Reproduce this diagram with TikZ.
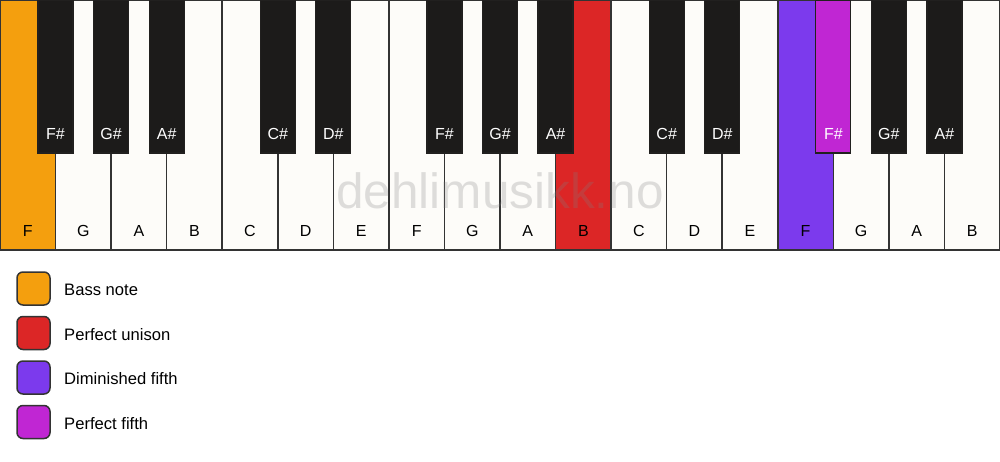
\documentclass[tikz,border=0pt]{standalone}
\usepackage{fontspec}
\setmainfont{Liberation Sans}
\definecolor{keywhite}{HTML}{FDFCF9}
\definecolor{keyblack}{HTML}{1C1B1A}
\definecolor{edgec}{HTML}{333333}
\definecolor{bassC}{HTML}{F49F0E}
\definecolor{unisonC}{HTML}{DC2626}
\definecolor{dimC}{HTML}{7C3AED}
\definecolor{fifthC}{HTML}{C026D3}
\tikzset{
  whitekey/.style={rectangle, draw=edgec, line width=1.5pt, anchor=north west,
    minimum width=55.556pt, minimum height=250pt, inner sep=0pt, outer sep=0pt},
  blackkey/.style={rectangle, draw=keyblack!80!edgec, line width=1.2pt, anchor=north,
    minimum width=35pt, minimum height=153pt, inner sep=0pt, outer sep=0pt},
  wlabel/.style={anchor=base, text=black, font=\fontsize{16}{19}\selectfont, inner sep=0pt},
  blabel/.style={anchor=base, text=white, font=\fontsize{16}{19}\selectfont, inner sep=0pt},
  legbox/.style={rectangle, rounded corners=6pt, draw=edgec, line width=1.5pt,
    minimum width=33pt, minimum height=33pt, inner sep=0pt},
  legtext/.style={anchor=base west, text=black, font=\fontsize{16.6}{20}\selectfont, inner sep=0pt},
  watermark/.style={anchor=base, text=gray, text opacity=0.25, font=\fontsize{49.5}{58}\selectfont, inner sep=0pt}
}
\begin{document}
\begin{tikzpicture}[x=1pt, y=-1pt]
\useasboundingbox[fill=white] (0,0) rectangle (1000,461);
% white keys
\foreach \n/\c [count=\i from 0] in {F/bassC,G/keywhite,A/keywhite,B/keywhite,C/keywhite,D/keywhite,E/keywhite,F/keywhite,G/keywhite,A/keywhite,B/unisonC,C/keywhite,D/keywhite,E/keywhite,F/dimC,G/keywhite,A/keywhite,B/keywhite}{
  \node[whitekey, fill=\c] (w\i) at (\i*55.556, 0) {};
}
% black keys
\foreach \b/\n/\c in {1/F\#/keyblack,2/G\#/keyblack,3/A\#/keyblack,5/C\#/keyblack,6/D\#/keyblack,8/F\#/keyblack,9/G\#/keyblack,10/A\#/keyblack,12/C\#/keyblack,13/D\#/keyblack,15/F\#/fifthC,16/G\#/keyblack,17/A\#/keyblack}{
  \node[blackkey, fill=\c] (b\b) at (\b*55.556, 0) {};
  \node[blabel] (bl\b) at (\b*55.556, 139) {\n};
}
% watermark
\node[watermark] (wm) at (500, 208) {dehlimusikk.no};
% white key labels
\foreach \n [count=\i from 0] in {F,G,A,B,C,D,E,F,G,A,B,C,D,E,F,G,A,B}{
  \node[wlabel] (wl\i) at (\i*55.556+27.778, 236) {\n};
}
% legend
\foreach \c/\t [count=\k from 0] in {bassC/Bass note,unisonC/Perfect unison,dimC/Diminished fifth,fifthC/Perfect fifth}{
  \node[legbox, fill=\c] (lb\k) at (33.5, 288.5+\k*44.5) {};
  \node[legtext] (lt\k) at (64, 295.5+\k*44.5) {\t};
}
\end{tikzpicture}
\end{document}
